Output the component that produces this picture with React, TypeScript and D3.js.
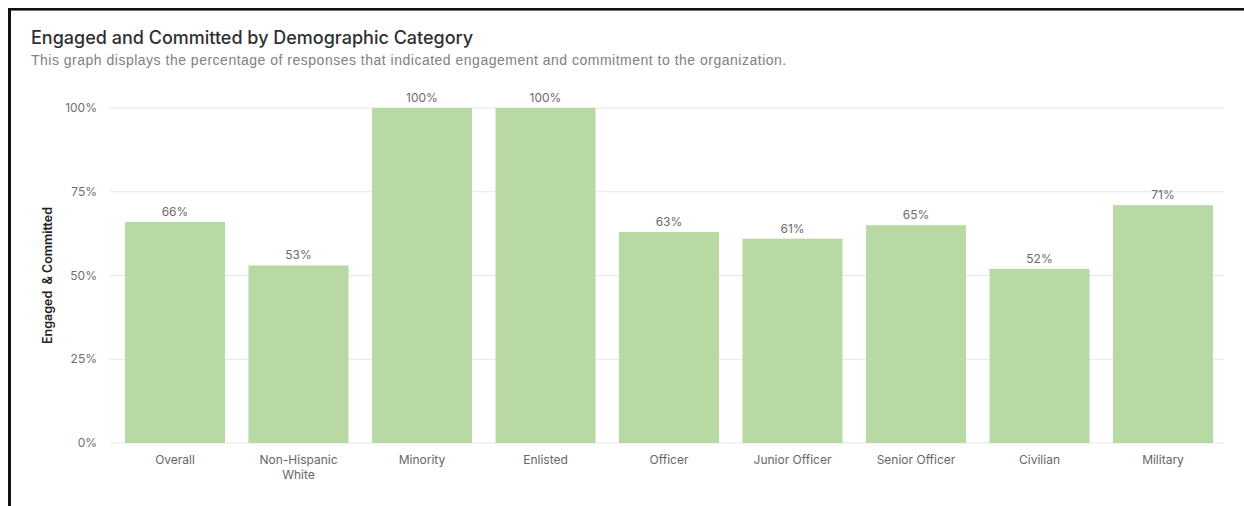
import React from "react";
import * as d3 from "d3";

const categories = [
  ["Overall"],
  ["Non-Hispanic", "White"],
  ["Minority"],
  ["Enlisted"],
  ["Officer"],
  ["Junior Officer"],
  ["Senior Officer"],
  ["Civilian"],
  ["Military"],
];
const values = [66, 53, 100, 100, 63, 61, 65, 52, 71];
const yTicks = [0, 25, 50, 75, 100];

const title = "Engaged and Committed by Demographic Category";
const subtitle =
  "This graph displays the percentage of responses that indicated engagement and commitment to the organization.";
const yTitle = "Engaged  & Committed";

export default function App() {
  const W = 1244;
  const H = 506;
  const font = "Inter, 'Noto Sans', Arial, sans-serif";
  const keys = categories.map((c) => c.join(" "));
  const x = d3
    .scaleBand<string>()
    .domain(keys)
    .range([113.25, 1224.75])
    .paddingInner(0.19)
    .paddingOuter(0.095);
  const y = d3.scaleLinear().domain([0, 100]).range([443, 108]);

  return (
    <svg
      width={W}
      height={H}
      style={{ position: "absolute", left: 0, top: 0, background: "#fff" }}
      fontFamily={font}
    >
      <rect x={0} y={0} width={W} height={H} fill="#fff" />
      {/* frame */}
      <rect x={8} y={8} width={W - 8} height={2.6} fill="#111" />
      <rect x={8} y={8} width={3} height={H - 8} fill="#111" />

      <text x={31} y={44} fontSize={18} fill="#2f2f33" fontWeight={500}>
        {title}
      </text>
      <text
        x={31}
        y={65}
        fontSize={14}
        letterSpacing={0.5}
        fill="#808086"
        fontFamily="'Liberation Sans', Arial, sans-serif"
      >
        {subtitle}
      </text>

      {/* grid */}
      {yTicks.map((t) => (
        <g key={t}>
          <line
            x1={110}
            x2={1224}
            y1={y(t)}
            y2={y(t)}
            stroke="#e6e6e6"
            strokeWidth={1}
          />
          <text
            x={97}
            y={y(t)}
            dy="0.35em"
            textAnchor="end"
            fontSize={12}
            fill="#6f6f6f"
          >
            {t}%
          </text>
        </g>
      ))}

      <text
        transform={`translate(52,${y(50)}) rotate(-90)`}
        textAnchor="middle"
        fontSize={12.5}
        fontWeight={600}
        fill="#222"
        style={{ whiteSpace: "pre" }}
      >
        {yTitle}
      </text>

      {/* bars */}
      {values.map((v, i) => {
        const k = keys[i];
        const bx = x(k)!;
        return (
          <g key={k}>
            <rect
              x={bx}
              y={y(v)}
              width={x.bandwidth()}
              height={y(0) - y(v)}
              fill="#b9d9a4"
            />
            <text
              x={bx + x.bandwidth() / 2}
              y={y(v) - 6}
              textAnchor="middle"
              fontSize={12}
              fill="#6b6b6b"
            >
              {v}%
            </text>
            {categories[i].map((line, j) => (
              <text
                key={j}
                x={bx + x.bandwidth() / 2}
                y={464 + j * 15}
                textAnchor="middle"
                fontSize={12}
                fill="#666"
              >
                {line}
              </text>
            ))}
          </g>
        );
      })}
    </svg>
  );
}
